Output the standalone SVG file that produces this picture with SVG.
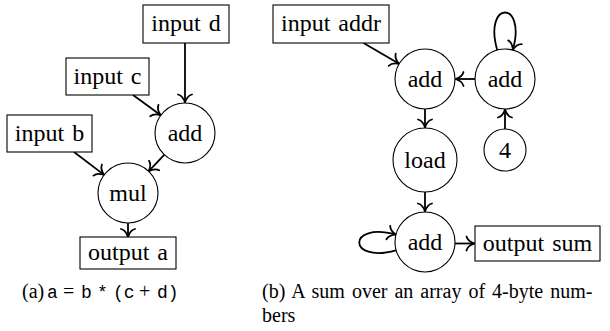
<svg xmlns="http://www.w3.org/2000/svg" width="610" height="331" viewBox="0 0 610 331">
<style>
.box{fill:#fff;stroke:#000;stroke-width:1.1}
.circ{fill:#fff;stroke:#000;stroke-width:1.1}
.lbl{font-family:"Liberation Serif","Times New Roman",serif;font-size:24px;fill:#000;text-anchor:middle;word-spacing:2px}
.cap{font-family:"Liberation Serif","Times New Roman",serif;font-size:20px;fill:#000}
.tt{font-family:"Liberation Mono","Courier New",monospace;font-size:18px}
.edge{fill:none;stroke:#000;stroke-width:1.8;marker-end:url(#tip)}
</style>
<defs>
<marker id="tip" markerUnits="userSpaceOnUse" markerWidth="20" markerHeight="20" viewBox="-10 -10 20 20" refX="0" refY="0" orient="auto" overflow="visible">
<path d="M -8,-7 C -7,-3 -2.5,-0.8 0,0 C -2.5,0.8 -7,3 -8,7" fill="none" stroke="#000" stroke-width="1.8" stroke-linecap="round"/>
</marker>
</defs>
<g id="connectors">
<line class="edge" x1="185" y1="43" x2="185" y2="102.5"/>
<line class="edge" x1="133" y1="95" x2="160.8" y2="115.3"/>
<line class="edge" x1="74" y1="152" x2="104.1" y2="174.9"/>
<line class="edge" x1="164.4" y1="154.7" x2="148.6" y2="171.3"/>
<line class="edge" x1="128" y1="223" x2="128" y2="237"/>
<line class="edge" x1="363.5" y1="43" x2="399.1" y2="63.8"/>
<line class="edge" x1="475" y1="79" x2="455.5" y2="79"/>
<line class="edge" x1="505" y1="129" x2="505" y2="109.5"/>
<line class="edge" x1="425" y1="109" x2="425" y2="127.5"/>
<line class="edge" x1="425" y1="192" x2="425" y2="211.5"/>
<line class="edge" x1="455" y1="243.5" x2="474.5" y2="243.5"/>
<path class="edge" d="M 497.2,50 C 483,0 527,0 512.8,50"/>
<path class="edge" d="M 396,250.3 C 347,264 347,221 396,234.7"/>
</g>
<g id="input-d"><rect class="box" x="143" y="5" width="86" height="38"/><text class="lbl" x="186" y="31">input d</text></g>
<g id="input-c"><rect class="box" x="66" y="58" width="83" height="37"/><text class="lbl" x="107.5" y="83.5">input c</text></g>
<g id="input-b"><rect class="box" x="7" y="115" width="85" height="37"/><text class="lbl" x="49.5" y="140.5">input b</text></g>
<g id="add-a"><circle class="circ" cx="185" cy="133" r="30"/><text class="lbl" x="185" y="141">add</text></g>
<g id="mul"><circle class="circ" cx="128" cy="193" r="30"/><text class="lbl" x="128" y="201">mul</text></g>
<g id="output-a"><rect class="box" x="80" y="237" width="96" height="32"/><text class="lbl" x="128" y="260">output a</text></g>
<g id="input-addr"><rect class="box" x="273" y="5" width="116" height="38"/><text class="lbl" x="331" y="31">input addr</text></g>
<g id="add-1"><circle class="circ" cx="425" cy="79" r="30"/><text class="lbl" x="425" y="87">add</text></g>
<g id="add-2"><circle class="circ" cx="505" cy="79" r="30"/><text class="lbl" x="505" y="87">add</text></g>
<g id="four"><circle class="circ" cx="505" cy="150" r="21"/><text class="lbl" x="505" y="158">4</text></g>
<g id="load"><circle class="circ" cx="425" cy="160" r="32"/><text class="lbl" x="425" y="168">load</text></g>
<g id="add-3"><circle class="circ" cx="425" cy="242" r="30"/><text class="lbl" x="425" y="250">add</text></g>
<g id="output-sum"><rect class="box" x="475" y="226" width="125" height="35"/><text class="lbl" x="537.5" y="251">output sum</text></g>
<g id="caption-a"><text class="cap" x="22" y="298">(a)<tspan class="tt" x="47">a</tspan><tspan x="63">=</tspan><tspan class="tt" x="81">b</tspan><tspan class="tt" x="97">*</tspan><tspan class="tt" x="113">(c</tspan><tspan x="139">+</tspan><tspan class="tt" x="157">d)</tspan></text></g>
<g id="caption-b"><text class="cap" x="262" y="298" word-spacing="2">(b) A sum over an array of 4-byte num-</text><text class="cap" x="262" y="322">bers</text></g>
</svg>
